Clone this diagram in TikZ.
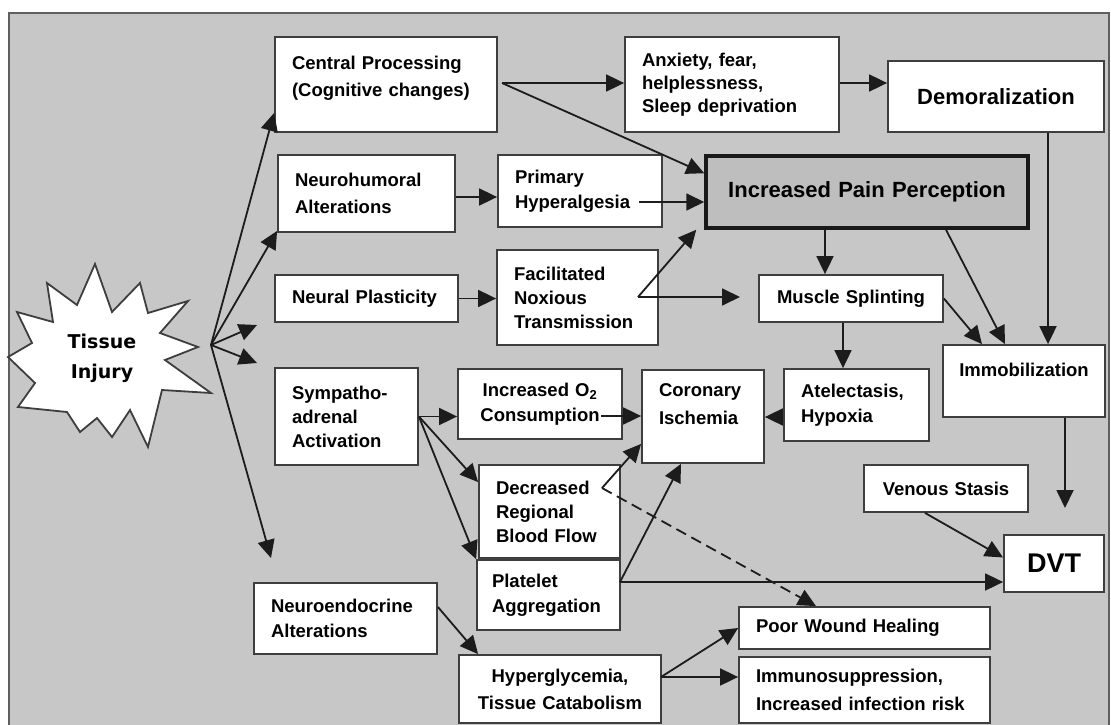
\documentclass[tikz,border=0pt]{standalone}
\usepackage{fontspec}
\setmainfont{Liberation Sans}
\newfontfamily\tifont{DejaVu Sans}
\usetikzlibrary{arrows.meta}
\definecolor{bg}{RGB}{199,199,199}
\definecolor{ippfill}{RGB}{190,190,190}
\definecolor{bordercol}{RGB}{62,62,62}
\definecolor{linecol}{RGB}{28,28,28}
\definecolor{framecol}{RGB}{95,95,95}
\newcommand{\fs}[2]{\bfseries\fontsize{#1}{#2}\selectfont}
\begin{document}
\begin{tikzpicture}[x=1pt,y=-1pt,
  box/.style={draw=bordercol, line width=1.8pt, fill=white, inner xsep=17pt, inner ysep=0pt, font=\fs{18.5}{25}, align=left},
  cbox/.style={box, align=center},
  arr/.style={draw=linecol, line width=1.8pt, -{Triangle[length=18pt,width=17pt]}},
  starbox/.style={draw=bordercol, line width=1.8pt, fill=white, line join=miter}
]
\useasboundingbox (0,0) rectangle (1111,725);
\clip (0,0) rectangle (1111,725);
% background frame
\fill[bg] (9,13) rectangle (1109,740);
\draw[framecol, line width=1.5pt] (9,740) -- (9,13) -- (1109,13) -- (1109,740);

% Tissue injury star
\draw[starbox] (95,264) -- (112,312) -- (140,283) -- (148,313) -- (188,301) -- (160,333) -- (198,347) -- (165,360) -- (211,393) -- (162,390) -- (148,447) -- (130,410) -- (112,437) -- (97,418) -- (80,432) -- (67,412) -- (18,407) -- (35,383) -- (8,357) -- (32,343) -- (17,312) -- (53,322) -- (47,283) -- (77,305) -- cycle;
\node[font={\tifont\bfseries\fontsize{19}{30}\selectfont}, align=center, inner sep=0pt] (ti) at (102,358) {Tissue\\Injury};
\coordinate (hub) at (211,345);

% boxes
\node[box, minimum width=222pt, minimum height=95pt, text width=188pt, font=\fs{18.5}{27}] (cp) at (386,84.5) {Central Processing\\(Cognitive changes)\\[-11pt]\mbox{}};
\node[box, minimum width=214pt, minimum height=95pt, text width=180pt, font=\fs{18.5}{23}] (anx) at (732,84.5) {Anxiety, fear,\\helplessness,\\Sleep deprivation};
\node[cbox, minimum width=216pt, minimum height=71pt, text width=182pt, font=\fs{22}{26}] (dem) at (996,96.5) {Demoralization};
\node[box, minimum width=177pt, minimum height=77pt, text width=143pt, font=\fs{18.5}{27}] (nh) at (366.5,193.5) {Neurohumoral\\Alterations};
\node[box, minimum width=164pt, minimum height=72pt, text width=130pt] (ph) at (580,191) {Primary\\Hyperalgesia};
\node[cbox, minimum width=322pt, minimum height=72pt, text width=288pt, font=\fs{22}{26}, fill=ippfill, draw=black!90, line width=3.5pt] (ipp) at (867,192) {Increased Pain Perception};
\node[box, minimum width=183pt, minimum height=47pt, text width=149pt] (np) at (366.5,298.5) {Neural Plasticity};
\node[box, minimum width=161pt, minimum height=95pt, text width=127pt, font=\fs{18.5}{24}] (fnt) at (577.5,297.5) {Facilitated\\Noxious\\Transmission};
\node[cbox, minimum width=184pt, minimum height=47pt, text width=150pt] (ms) at (851,298.5) {Muscle Splinting};
\node[cbox, inner xsep=8pt, minimum width=162pt, minimum height=72pt, text width=146pt] (imm) at (1024,381) {Immobilization\\[-3pt]\mbox{}};
\node[box, minimum width=143pt, minimum height=97pt, text width=109pt, font=\fs{18.5}{24}] (sa) at (346.5,416.5) {Sympatho-\\adrenal\\Activation};
\node[cbox, minimum width=164pt, minimum height=70pt, text width=130pt] (o2) at (540,404) {Increased O\textsubscript{2}\\Consumption};
\node[box, minimum width=122pt, minimum height=93pt, text width=88pt, font=\fs{18.5}{28}] (ci) at (703,416.5) {Coronary\\Ischemia\\[-3pt]\mbox{}};
\node[box, minimum width=145pt, minimum height=72pt, text width=111pt] (at) at (856.5,405) {Atelectasis,\\Hypoxia};
\node[box, minimum width=141pt, minimum height=93pt, text width=107pt, font=\fs{18.5}{24}] (drbf) at (549.5,511.5) {Decreased\\Regional\\Blood Flow};
\node[box, inner xsep=15pt, minimum width=143pt, minimum height=70pt, text width=113pt] (pa) at (548.5,595) {Platelet\\Aggregation};
\node[cbox, minimum width=164pt, minimum height=47pt, text width=130pt] (vs) at (946,488.5) {Venous Stasis};
\node[cbox, minimum width=100pt, minimum height=57pt, text width=66pt, font=\fs{27}{30}] (dvt) at (1054,563.5) {DVT};
\node[box, minimum width=183pt, minimum height=71pt, text width=149pt] (ne) at (345.5,618.5) {Neuroendocrine\\Alterations};
\node[cbox, minimum width=202pt, minimum height=68pt, text width=168pt, font=\fs{18.5}{27}] (hg) at (560,689) {Hyperglycemia,\\Tissue Catabolism};
\node[box, minimum width=251pt, minimum height=42pt, text width=217pt] (pwh) at (864.5,628) {Poor Wound Healing};
\node[box, minimum width=251pt, minimum height=66pt, text width=217pt, font=\fs{18.5}{28}] (imu) at (864.5,690) {Immunosuppression,\\Increased infection risk};

% hubs and free ends
\coordinate (cphub) at (502,83);
\coordinate (fhub) at (638,297);
\coordinate (dhub) at (602,488);
\coordinate (phub) at (620,582);
\coordinate (hghub) at (661,677);
\coordinate (tnp) at (257,325);
\coordinate (tsa) at (257,363);
\coordinate (tne) at (271,558);
\coordinate (tms) at (740,297);
\coordinate (tdvt) at (1065,508);

% connectors from tissue injury
\draw[arr] (hub) -- ([yshift=20pt]cp.south west);
\draw[arr] (hub) -- ([yshift=2pt]nh.south west);
\draw[arr] (hub) -- (tnp);
\draw[arr] (hub) -- (tsa);
\draw[arr] (hub) -- (tne);

% central processing
\draw[arr] (cphub) -- (cphub -| anx.west);
\draw[arr] (cphub) -- ([yshift=-19pt]ipp.north west);
\draw[arr] (anx.east |- cphub) -- (dem.west |- cphub);

\draw[arr] (nh.east |- 0,197) -- (ph.west |- 0,197);
\draw[arr] ([xshift=-24pt]ph.east |- 0,202) -- (ipp.west |- 0,202);
\draw[arr] (np.east) -- (fnt.west |- np.east);
\draw[arr] (fhub) -- ([xshift=-8pt]ipp.south west);
\draw[arr] (fhub) -- (tms);

\draw[arr] (ipp.south -| 825,0) -- (ms.north -| 825,0);
\draw[arr] (ipp.south -| 946,0) -- (imm.north -| 1005,0);
\draw[arr] (dem.south -| 1048,0) -- (imm.north -| 1048,0);
\draw[arr] (ms.east) -- (imm.north -| 982,0);
\draw[arr] (ms.south -| 843,0) -- (at.north -| 843,0);
\draw[arr] (at.west |- 0,417) -- (ci.east |- 0,417);

\draw[arr] (sa.east) -- (o2.west |- sa.east);
\draw[arr] (sa.east) -- ([yshift=-18pt]drbf.north west);
\draw[arr] (sa.east) -- (pa.north west);
\draw[arr] ([xshift=-22pt]o2.east |- 0,416) -- (ci.west |- 0,416);

\draw[arr] (dhub) -- ([yshift=20pt]ci.south west);
\draw[arr, dash pattern=on 11pt off 6pt] (dhub) -- (pwh.north -| 816,0);
\draw[arr] (phub) -- (ci.south -| 681,0);
\draw[arr] (phub) -- (dvt.west |- phub);
\draw[arr] (vs.south -| 925,0) -- ([yshift=6pt]dvt.west);
\draw[arr] (imm.south -| 1065,0) -- (tdvt);

\draw[arr] (ne.east |- 0,607) -- ([xshift=20pt]hg.north west);
\draw[arr] (hghub) -- (pwh.west);
\draw[arr] (hghub) -- (imu.west |- hghub);
\end{tikzpicture}
\end{document}
